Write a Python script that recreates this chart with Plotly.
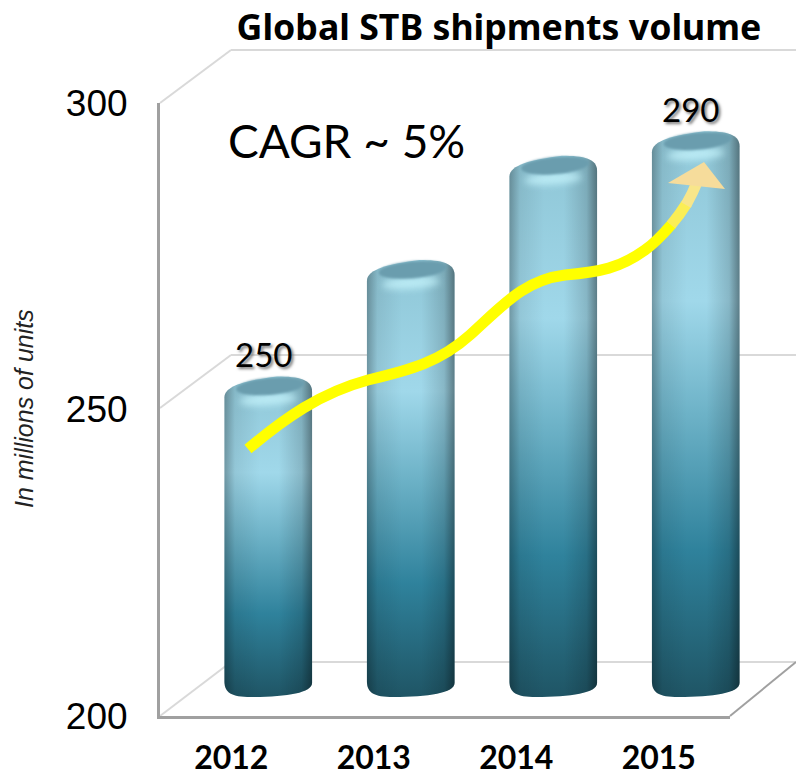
import plotly.graph_objects as go

years = ["2012", "2013", "2014", "2015"]
shipments = [250, 269, 286, 290]
labelled_years = ["2012", "2015"]
labelled_values = [250, 290]
y_ticks = [200, 250, 300]

W, H = 796, 777
def fx(p): return p / W
def fy(p): return 1 - p / H

def curve(cmds):
    out = []
    for c in cmds:
        if isinstance(c, str):
            out.append(c)
        else:
            out.append(f"{fx(c[0]):.5f},{fy(c[1]):.5f}")
    return " ".join(out)

GRID = "#d9d9d9"
AXIS = "#a0a0a0"

shapes = []
def seg(x0, y0, x1, y1, color, width=2):
    shapes.append(dict(type="line", xref="paper", yref="paper", layer="below",
                       x0=fx(x0), y0=fy(y0), x1=fx(x1), y1=fy(y1),
                       line=dict(color=color, width=width)))

seg(160, 103, 231, 50, GRID)
seg(231, 50, 796, 50, GRID)
seg(160, 408, 231, 355, GRID)
seg(231, 355, 796, 355, GRID)
seg(160, 716, 231, 662, GRID)
seg(231, 662, 796, 662, GRID)
seg(730, 716, 796, 662, AXIS)

def path(cmds, line=None, fill=None):
    d = dict(type="path", xref="paper", yref="paper", layer="above", path=curve(cmds))
    d["line"] = dict(color=line[0], width=line[1]) if line else dict(width=0)
    if fill:
        d["fillcolor"] = fill
    shapes.append(d)

# growth arrow
path(["M", (248, 449), "C", (285, 418), (320, 393), (368, 380),
      "C", (410, 370), (440, 362), (470, 335),
      "C", (505, 303), (525, 280), (565, 275),
      "C", (600, 272), (620, 268), (645, 250),
      "C", (655, 243), (665, 232), (672, 224)], line=("#ffff00", 11))
path(["M", (671, 225), "C", (677, 218), (682, 211), (687, 203)], line=("#fbee55", 11))
path(["M", (686, 205), "C", (690, 198), (694, 190), (698, 180)], line=("#f8e68a", 11))
path(["M", (704, 162), "L", (725, 189), "L", (668, 183), "Z"], fill="#f6dc9b")

fig = go.Figure()
fig.add_trace(go.Scatter(x=years, y=shipments, xaxis="x", yaxis="y", mode="lines",
                         line=dict(width=0), opacity=0, hoverinfo="skip", showlegend=False))
fig.add_trace(go.Bar(x=years, y=shipments, xaxis="x2", yaxis="y2", width=0.615,
                     marker=dict(color="#5fa6bb", line=dict(width=0)),
                     showlegend=False))

notes = [
    dict(text="CAGR ~ 5%", xref="paper", yref="paper", x=fx(346), y=fy(141),
         xanchor="center", yanchor="middle", showarrow=False,
         font=dict(family="Lato", size=46, color="#000000")),
    dict(text="<i>In millions of units</i>", xref="paper", yref="paper", x=fx(24), y=fy(409),
         xanchor="center", yanchor="middle", showarrow=False, textangle=-90,
         font=dict(family="Liberation Sans", size=25, color="#222222")),
]
for yr, val in zip(labelled_years, labelled_values):
    notes.append(dict(text=str(val), xref="x2", yref="y2", x=years.index(yr), y=val,
                      xanchor="center", yanchor="bottom", showarrow=False,
                      xshift=-5, yshift=0,
                      font=dict(family="Lato", size=33, color="#000000",
                                shadow="2px 2px 3px #777777")))

hidden = dict(showgrid=False, showline=False, zeroline=False, showticklabels=False, ticks="")

fig.update_layout(
    width=W, height=H, margin=dict(l=0, r=0, t=0, b=0, autoexpand=False),
    paper_bgcolor="white", plot_bgcolor="rgba(0,0,0,0)", showlegend=False,
    title=dict(text="<b>Global STB shipments volume</b>", x=499 / W, xanchor="center",
               y=fy(28), yanchor="middle",
               font=dict(family="Noto Sans", size=35.7, color="#000000")),
    xaxis=dict(domain=[fx(160), fx(730)], anchor="y", type="category",
               categoryorder="array", categoryarray=years, range=[-0.5, 3.5],
               showgrid=False, showline=True, linecolor=AXIS, linewidth=3, zeroline=False,
               ticks="", tickfont=dict(family="Lato", size=32, weight="bold", color="#000000"),
               ticklabelstandoff=12),
    yaxis=dict(domain=[fy(716), fy(103)], anchor="x", range=[200, 300],
               tickvals=y_ticks, showgrid=False, showline=True, linecolor=AXIS, linewidth=3,
               zeroline=False, ticks="",
               tickfont=dict(family="Liberation Sans", size=37, color="#000000"),
               ticklabelstandoff=22),
    xaxis2=dict(domain=[fx(197), fx(767)], anchor="y2", type="category",
                categoryorder="array", categoryarray=years, range=[-0.5, 3.5], **hidden),
    yaxis2=dict(domain=[fy(697), fy(70)], anchor="x2", range=[197.7, 300], **hidden),
    shapes=shapes,
    annotations=notes,
)

post = r"""
document.body.style.margin = '0';
var gd = document.getElementById('{plot_id}');
var NS = 'http://www.w3.org/2000/svg';
var svg = gd.querySelector('svg.main-svg');
var defs = document.createElementNS(NS, 'defs');
defs.innerHTML =
 '<linearGradient id="cylV" x1="0" y1="0" x2="0" y2="1">' +
 '<stop offset="0" stop-color="#8fc6d6"/><stop offset="0.3" stop-color="#a0d8ea"/>' +
 '<stop offset="0.5" stop-color="#6db2c7"/><stop offset="0.74" stop-color="#2f829c"/>' +
 '<stop offset="1" stop-color="#1f5565"/></linearGradient>' +
 '<linearGradient id="cylH" x1="0" y1="0" x2="1" y2="0">' +
 '<stop offset="0" stop-color="#000" stop-opacity="0.3"/>' +
 '<stop offset="0.12" stop-color="#000" stop-opacity="0.08"/>' +
 '<stop offset="0.4" stop-color="#000" stop-opacity="0"/>' +
 '<stop offset="0.62" stop-color="#000" stop-opacity="0"/>' +
 '<stop offset="0.88" stop-color="#000" stop-opacity="0.15"/>' +
 '<stop offset="1" stop-color="#000" stop-opacity="0.42"/></linearGradient>' +
 '<filter id="b3" x="-30%" y="-100%" width="160%" height="300%"><feGaussianBlur stdDeviation="3.5"/></filter>' +
 '<filter id="b1" x="-30%" y="-100%" width="160%" height="300%"><feGaussianBlur stdDeviation="1.2"/></filter>';
svg.insertBefore(defs, svg.firstChild);
var axisLen = gd._fullLayout.yaxis2._length;
gd.querySelectorAll('.barlayer .point').forEach(function (pt) {
  var bar = pt.querySelector('path');
  var b = bar.getBBox();
  var L = b.x, w = b.width, R = L + w, t = b.y, bot = axisLen;
  var d = 'M' + L + ',' + (t + 21) +
    'C' + L + ',' + (t + 9) + ' ' + (L + .25 * w) + ',' + (t + 4) + ' ' + (L + .6 * w) + ',' + t +
    'C' + (L + .85 * w) + ',' + t + ' ' + R + ',' + (t + 3) + ' ' + R + ',' + (t + 15) +
    'L' + R + ',' + (bot - 14) +
    'C' + R + ',' + (bot - 4) + ' ' + (L + .7 * w) + ',' + bot + ' ' + (L + .3 * w) + ',' + bot +
    'C' + (L + .08 * w) + ',' + bot + ' ' + L + ',' + (bot - 4) + ' ' + L + ',' + (bot - 16) + 'Z';
  bar.setAttribute('d', d);
  bar.style.fill = 'url(#cylV)';
  var g = document.createElementNS(NS, 'g');
  var shade = document.createElementNS(NS, 'path');
  shade.setAttribute('d', d);
  shade.setAttribute('fill', 'url(#cylH)');
  g.appendChild(shade);
  var cx = L + .5 * w;
  var hi = document.createElementNS(NS, 'ellipse');
  hi.setAttribute('cx', cx); hi.setAttribute('cy', t + 23);
  hi.setAttribute('rx', .33 * w); hi.setAttribute('ry', 6);
  hi.setAttribute('fill', '#c4f3fb'); hi.setAttribute('opacity', '.8');
  hi.setAttribute('filter', 'url(#b3)');
  hi.setAttribute('transform', 'rotate(-4 ' + cx + ' ' + (t + 23) + ')');
  g.appendChild(hi);
  var cap = document.createElementNS(NS, 'ellipse');
  var ccy = t + 10;
  cap.setAttribute('cx', cx + 2); cap.setAttribute('cy', ccy);
  cap.setAttribute('rx', .39 * w); cap.setAttribute('ry', 8.5);
  cap.setAttribute('fill', '#6a9dae');
  cap.setAttribute('filter', 'url(#b1)');
  cap.setAttribute('transform', 'rotate(-5 ' + cx + ' ' + ccy + ')');
  g.appendChild(cap);
  bar.parentNode.insertBefore(g, bar.nextSibling);
});
"""

fig.write_html("out.html", post_script=post, config=dict(displayModeBar=False))
